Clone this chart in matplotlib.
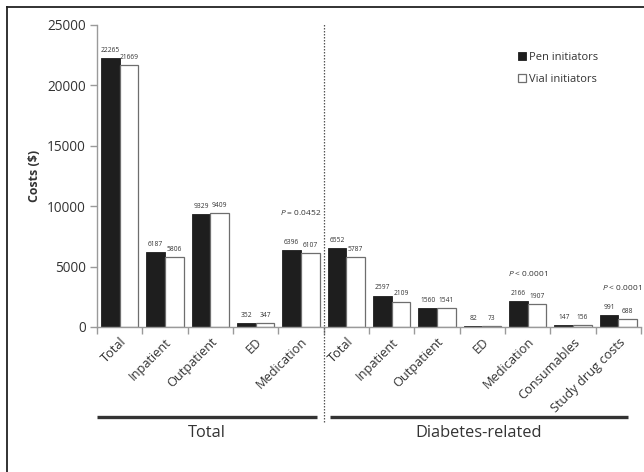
import matplotlib
matplotlib.use("Agg")
import matplotlib.pyplot as plt
import numpy as np
from matplotlib.lines import Line2D

plt.rcParams['font.family'] = ['Open Sans', 'DejaVu Sans']
plt.rcParams['mathtext.fontset'] = 'custom'
plt.rcParams['mathtext.it'] = 'Open Sans:italic'
plt.rcParams['mathtext.rm'] = 'Open Sans'

# cost categories, all-cause first then diabetes-related
categories = ["Total", "Inpatient", "Outpatient", "ED", "Medication",
              "Total", "Inpatient", "Outpatient", "ED", "Medication",
              "Consumables", "Study drug costs"]
pen = [22265, 6187, 9329, 352, 6396,
       6552, 2597, 1560, 82, 2166, 147, 991]
vial = [21669, 5806, 9409, 347, 6107,
        5787, 2109, 1541, 73, 1907, 156, 688]
p_labels = ["$\\it{P}$ = 0.0452", "$\\it{P}$ < 0.0001", "$\\it{P}$ < 0.0001"]
groups = ["Total", "Diabetes-related"]

txt = "#333333"
fig = plt.figure(figsize=(6.44, 4.72), dpi=100)
ax = fig.add_axes([97 / 644, 1 - 327 / 472, 544 / 644, 302 / 472])

x = np.arange(len(categories))
w = 0.41
b1 = ax.bar(x - w / 2, pen, w, color="#1e1e1e", edgecolor="#1e1e1e",
            linewidth=0.6, label="Pen initiators")
b2 = ax.bar(x + w / 2, vial, w, color="white", edgecolor="#6e6e6e",
            linewidth=0.9, label="Vial initiators")

for bars in (b1, b2):
    for r in bars:
        h = r.get_height()
        ax.annotate(f"{int(h)}", (r.get_x() + r.get_width() / 2, h),
                    xytext=(0, 3), textcoords="offset points",
                    ha="center", va="bottom", fontsize=4.8, color=txt)

# p-values above the medication and study drug pairs
ax.text(4, 9450, p_labels[0], ha="center", va="center", fontsize=6, color=txt)
ax.text(9, 4470, p_labels[1], ha="center", va="center", fontsize=6, color=txt)
ax.text(11.52, 3310, p_labels[2], ha="right", va="center", fontsize=6,
        color=txt, clip_on=False)

ax.set_xlim(-0.5, 11.5)
ax.set_ylim(0, 25000)
ax.set_yticks(range(0, 25001, 5000))
ax.tick_params(axis="y", labelsize=9.8, labelcolor=txt, color="#9a9a9a",
               length=5, width=1, pad=3)
ax.set_ylabel("Costs ($)", fontsize=8.9, fontweight="bold", color=txt, labelpad=4)

# ticks on the category boundaries, labels at the centres
ax.set_xticks(np.arange(-0.5, 12, 1))
ax.set_xticklabels([])
ax.set_xticks(x, minor=True)
ax.set_xticklabels(categories, minor=True, rotation=45, ha="right",
                   rotation_mode="anchor", fontsize=9.2, color=txt)
ax.tick_params(axis="x", which="major", color="#9a9a9a", length=5, width=1)
ax.tick_params(axis="x", which="minor", length=0, pad=6)

for s in ("top", "right"):
    ax.spines[s].set_visible(False)
for s in ("left", "bottom"):
    ax.spines[s].set_color("#9a9a9a")
    ax.spines[s].set_linewidth(1)

# dotted divider between the two groups
ax.plot([4.5, 4.5], [-0.315, 1.007], transform=ax.get_xaxis_transform(),
        color="#555555", lw=0.9, ls=(0, (1.2, 1.2)), clip_on=False)

# group brackets under the category labels
spans = [(-0.5, 4.35), (4.64, 11.21)]
tr = ax.get_xaxis_transform()
for (a, b), name in zip(spans, groups):
    ax.plot([a, b], [-0.298, -0.298], transform=tr, color="#333333",
            lw=2.4, clip_on=False, solid_capstyle="butt")
    ax.text((a + b) / 2, -0.352, name, transform=tr, ha="center", va="center",
            fontsize=11.8, color=txt)

ax.legend(loc="upper left", bbox_to_anchor=(0.755, 0.945), frameon=False,
          fontsize=8, handlelength=0.75, handleheight=0.75, handletextpad=0.3,
          labelspacing=1.0, labelcolor=txt)

# outer frame, left and top edges
fig.add_artist(Line2D([7 / 644, 7 / 644], [0, 1 - 7 / 472], transform=fig.transFigure,
                      color="#222222", lw=1.3))
fig.add_artist(Line2D([7 / 644, 1], [1 - 7 / 472, 1 - 7 / 472], transform=fig.transFigure,
                      color="#222222", lw=1.3))

fig.savefig("out.png", dpi=100)
